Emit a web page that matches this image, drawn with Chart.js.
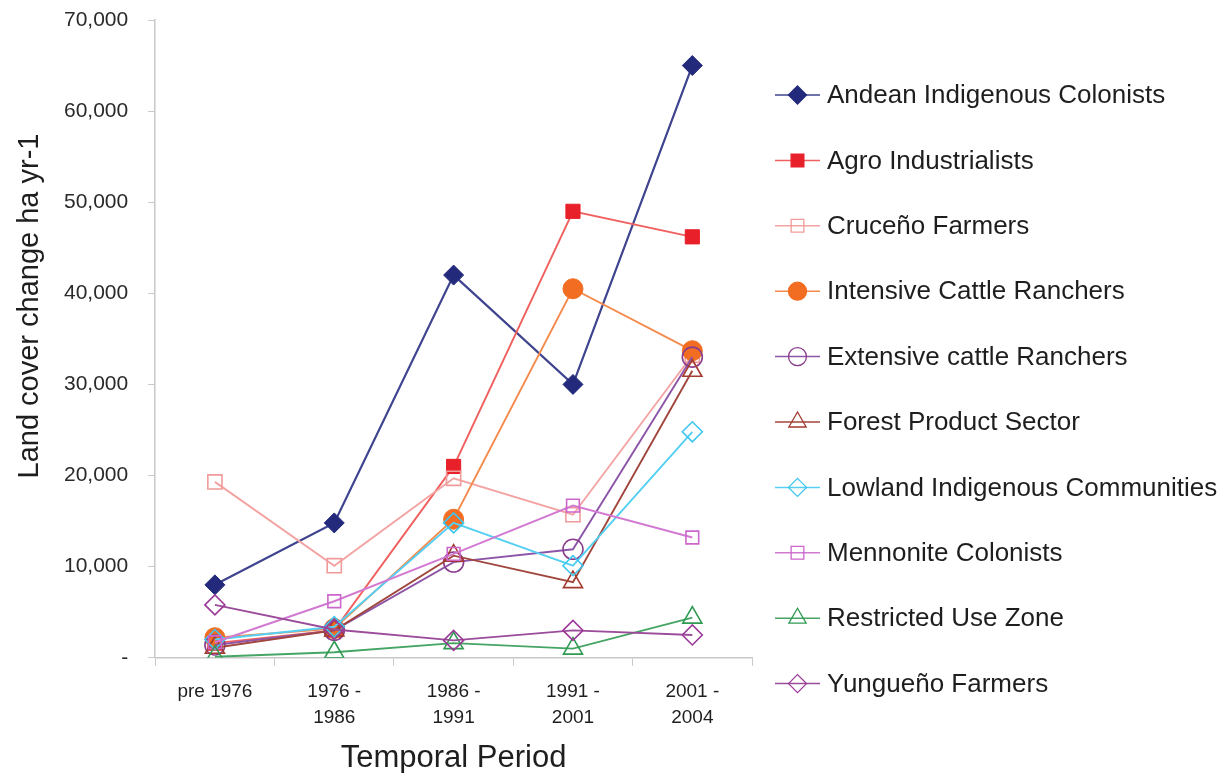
<!DOCTYPE html>
<html><head><meta charset="utf-8">
<script src="https://cdn.jsdelivr.net/npm/chart.js@4.4.1/dist/chart.umd.min.js"></script>
<style>html,body{margin:0;padding:0;background:#fff}#wrap{width:1228px;height:773px;position:relative}</style>
</head><body><div id="wrap"><canvas id="c" width="1228" height="773"></canvas></div>
<script>
const categories = [["pre 1976"], ["1976 -", "1986"], ["1986 -", "1991"], ["1991 -", "2001"], ["2001 -", "2004"]];
const seriesNames = ["Andean Indigenous Colonists","Agro Industrialists","Cruceño Farmers","Intensive Cattle Ranchers","Extensive cattle Ranchers","Forest Product Sector","Lowland Indigenous Communities","Mennonite Colonists","Restricted Use Zone","Yungueño Farmers"];
const andean     = [8000, 14800, 42000, 30000, 65000];
const agro       = [1600, 3000, 21000, 49000, 46200];
const cruceno    = [19300, 10100, 19700, 15700, 33200];
const intensive  = [2200, 3200, 15200, 40500, 33700];
const extensive  = [1400, 3000, 10500, 11900, 33000];
const forest     = [1100, 3000, 11200, 8300, 31500];
const lowland    = [2000, 3400, 14800, 10100, 24800];
const mennonite  = [1700, 6200, 11400, 16700, 13200];
const restricted = [100, 600, 1600, 1000, 4400];
const yungueno   = [5800, 3100, 1900, 3000, 2500];
const yTicks = [0, 10000, 20000, 30000, 40000, 50000, 60000, 70000];
const yTitle = 'Land cover change ha yr-1';
const xTitle = 'Temporal Period';

const seriesValues = [andean, agro, cruceno, intensive, extensive, forest, lowland, mennonite, restricted, yungueno];
const colors = ["#232a7c","#e8202a","#f19a9a","#f26d21","#8a3d8c","#a3392f","#3cc6ef","#cc66cc","#2f9a52","#9c3a98"];
const styles = ["rectRot","rect","rect","circle","circle","triangle","rectRot","rect","triangle","rectRot"];
const filled = [true,true,false,true,false,false,false,false,false,false];
const radii  = [10,10,10,10,10,11,10,9,11,10];
const lineColors = ["#3f448f","#f0605f","#f4a3a3","#f58a4d","#8c55a8","#a0463d","#55cff2","#d27ad2","#45a565","#9b4c9b"];

const FONT = '"Liberation Sans", Arial, sans-serif';

const datasets = seriesNames.map((n,i)=>({
  label:n, data:seriesValues[i], borderColor:lineColors[i], borderWidth:i===0?2.2:1.9,
  pointStyle:styles[i], pointRadius:radii[i], pointHoverRadius:radii[i],
  pointBackgroundColor: filled[i]?colors[i]:'rgba(255,255,255,0)',
  pointBorderColor: colors[i], pointBorderWidth: filled[i]?1:1.6,
  fill:false, tension:0, order: seriesNames.length - i
}));

const legendPlugin = {
  id:'customLegend',
  afterDraw(chart){
    const ctx = chart.ctx;
    ctx.save();
    ctx.fillStyle = '#1e1e1e'; ctx.font = '29px ' + FONT;
    ctx.textAlign = 'center'; ctx.textBaseline = 'middle';
    ctx.translate(30, 306); ctx.rotate(-Math.PI/2);
    ctx.fillText(yTitle, 0, 0);
    ctx.restore();
    ctx.save();
    const x0 = 775, x1 = 820, tx = 827, y0 = 95, dy = 65.4;
    chart.data.datasets.forEach((ds,i)=>{
      const y = y0 + i*dy;
      ctx.strokeStyle = ds.borderColor; ctx.lineWidth = 1.5;
      ctx.beginPath(); ctx.moveTo(x0,y); ctx.lineTo(x1,y); ctx.stroke();
      ctx.fillStyle = ds.pointBackgroundColor; ctx.strokeStyle = ds.pointBorderColor; ctx.lineWidth = 1.3;
      Chart.helpers.drawPoint(ctx, {pointStyle: ds.pointStyle, rotation:0, radius: ds.pointStyle==='triangle'?10:9, borderWidth:1.3}, (x0+x1)/2, y);
      ctx.fillStyle = '#1e1e1e'; ctx.font = '26px ' + FONT;
      ctx.textBaseline = 'middle'; ctx.textAlign='left';
      ctx.fillText(ds.label, tx, y+1);
    });
    ctx.restore();
  }
};

new Chart(document.getElementById('c'), {
  type:'line',
  data:{labels:categories, datasets},
  options:{
    responsive:false, animation:false,
    layout:{padding:{top:20,right:476,left:44,bottom:0}},
    plugins:{legend:{display:false}, tooltip:{enabled:false}},
    scales:{
      x:{
        offset:true,
        grid:{display:true, drawOnChartArea:false, offset:true, color:'#c8c8c8', tickLength:8},
        border:{color:'#c8c8c8', width:1.5},
        ticks:{color:'#1e1e1e', font:{family:FONT, size:19, lineHeight:1.38}, maxRotation:0, autoSkip:false, padding:13},
        title:{display:true, text:xTitle, color:'#1e1e1e', font:{family:FONT, size:31, lineHeight:0.93}, padding:{top:0, bottom:0}}
      },
      y:{
        min:0, max:70000,
        afterBuildTicks(axis){ axis.ticks = yTicks.map(v=>({value:v})); },
        afterFit(axis){ axis.paddingTop = 0; axis.paddingBottom = 0; },
        grid:{display:true, drawOnChartArea:false, color:'#c8c8c8', tickLength:7},
        border:{color:'#c8c8c8', width:1.5},
        ticks:{color:'#2a2a2a', font:{family:FONT, size:21}, padding:20,
          callback:(v)=> v===0 ? '-' : v.toLocaleString('en-US')},
        title:{display:false}
      }
    }
  },
  plugins:[legendPlugin]
});
</script></body></html>
